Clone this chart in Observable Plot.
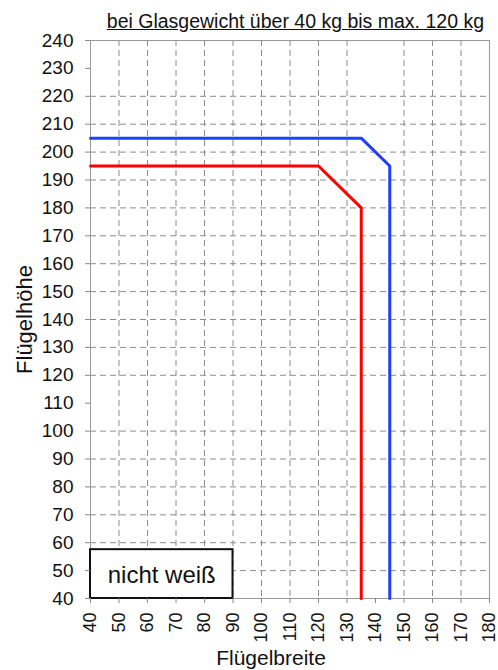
<!DOCTYPE html>
<html>
<head>
<meta charset="utf-8">
<script src="https://cdn.jsdelivr.net/npm/d3@7"></script>
<script src="https://cdn.jsdelivr.net/npm/@observablehq/plot@0.6"></script>
<style>
  html, body { margin: 0; padding: 0; background: #fff; }
  #wrap { position: relative; width: 498px; height: 670px; }
  #title { position: absolute; top: 10px; right: 14px; font-family: "Liberation Sans", Arial, sans-serif; font-size: 19.5px; line-height: 22px; text-decoration: underline; color: #111; white-space: nowrap; }
</style>
</head>
<body>
<div id="wrap"><div id="title">bei Glasgewicht über 40 kg bis max. 120 kg</div></div>
<script>
const xTicks = [40, 50, 60, 70, 80, 90, 100, 110, 120, 130, 140, 150, 160, 170, 180];
const yTicks = [40, 50, 60, 70, 80, 90, 100, 110, 120, 130, 140, 150, 160, 170, 180, 190, 200, 210, 220, 230, 240];
const xGrid = [50, 60, 70, 80, 90, 100, 110, 120, 130, 150, 160, 170];
const yGrid = [50, 60, 70, 80, 90, 100, 120, 130, 140, 150, 160, 170, 180, 190, 200, 210, 220];
const redX = [40, 120, 135, 135];
const redY = [195, 195, 180, 40];
const blueX = [40, 135, 145, 145];
const blueY = [205, 205, 195, 40];
const boxLabel = "nicht weiß";
const boxX = [40, 90];
const boxY = [40, 57.5];

const red = redX.map((x, i) => ({x, y: redY[i]}));
const blue = blueX.map((x, i) => ({x, y: blueY[i]}));
const box = [{x1: boxX[0], x2: boxX[1], y1: boxY[0], y2: boxY[1], label: boxLabel}];

const chart = Plot.plot({
  width: 498,
  height: 670,
  marginLeft: 90,
  marginRight: 9,
  marginTop: 40,
  marginBottom: 72,
  x: {domain: [40, 180]},
  y: {domain: [40, 240]},
  style: {fontFamily: "'Liberation Sans', Arial, sans-serif", color: "#000", background: "#fff"},
  marks: [
    Plot.ruleX(xGrid, {stroke: "#8c8c8c", strokeDasharray: "6,4", strokeWidth: 1}),
    Plot.ruleY(yGrid, {stroke: "#8c8c8c", strokeDasharray: "6,4", strokeWidth: 1}),
    Plot.frame({stroke: "#999"}),
    Plot.line(red, {x: "x", y: "y", stroke: "#ff0000", strokeWidth: 3}),
    Plot.line(blue, {x: "x", y: "y", stroke: "#1f3fff", strokeWidth: 3}),
    Plot.rect(box, {x1: "x1", x2: "x2", y1: "y1", y2: "y2", fill: "#fff", stroke: "#111", strokeWidth: 2}),
    Plot.text(box, {x: d => (d.x1 + d.x2) / 2, y: d => (d.y1 + d.y2) / 2, text: "label", fontSize: 24, fill: "#111", dy: 1}),
    Plot.axisY({ticks: yTicks, tickSize: 5, tickPadding: 12, fontSize: 19, stroke: "#888", fill: "#111", label: null}),
    Plot.axisX({ticks: xTicks, tickSize: 5, tickPadding: 9, tickRotate: -90, fontSize: 18, stroke: "#888", fill: "#111", label: null}),
    Plot.text(["Flügelhöhe"], {frameAnchor: "left", textAnchor: "middle", rotate: -90, dx: -66, fontSize: 22, fill: "#111"}),
    Plot.text(["Flügelbreite"], {frameAnchor: "bottom", textAnchor: "middle", lineAnchor: "bottom", dx: -19, dy: 66, fontSize: 21, fill: "#111"})
  ]
});
document.getElementById("wrap").appendChild(chart);
</script>
</body>
</html>
